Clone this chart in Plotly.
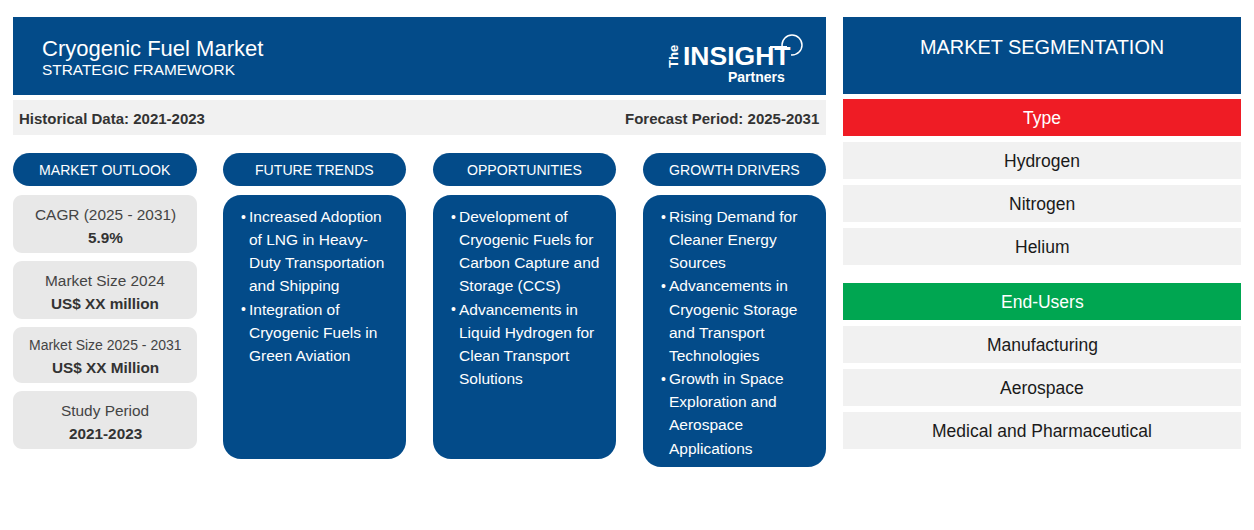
import plotly.graph_objects as go

NAVY = '#034b89'
GREY = '#e8e8e8'
LIGHT = '#f1f1f1'
INK = '#333333'
DARK = '#1a1a1a'
FONT = 'Liberation Sans'

title = 'Cryogenic Fuel Market'
subtitle = 'STRATEGIC FRAMEWORK'
historical = 'Historical Data: 2021-2023'
forecast = 'Forecast Period: 2025-2031'
segmentation_title = 'MARKET SEGMENTATION'

column_heads = ['MARKET OUTLOOK', 'FUTURE TRENDS', 'OPPORTUNITIES', 'GROWTH DRIVERS']

outlook_labels = ['CAGR (2025 - 2031)', 'Market Size 2024', 'Market Size 2025 - 2031', 'Study Period']
outlook_values = ['5.9%', 'US$ XX million', 'US$ XX Million', '2021-2023']

future_trends = [
    ['Increased Adoption', 'of LNG in Heavy-', 'Duty Transportation', 'and Shipping'],
    ['Integration of', 'Cryogenic Fuels in', 'Green Aviation'],
]
opportunities = [
    ['Development of', 'Cryogenic Fuels for', 'Carbon Capture and', 'Storage (CCS)'],
    ['Advancements in', 'Liquid Hydrogen for', 'Clean Transport', 'Solutions'],
]
growth_drivers = [
    ['Rising Demand for', 'Cleaner Energy', 'Sources'],
    ['Advancements in', 'Cryogenic Storage', 'and Transport', 'Technologies'],
    ['Growth in Space', 'Exploration and', 'Aerospace', 'Applications'],
]

type_items = ['Hydrogen', 'Nitrogen', 'Helium']
end_user_items = ['Manufacturing', 'Aerospace', 'Medical and Pharmaceutical']


def rounded(x0, y0, x1, y1, r):
    # rounded rectangle as an svg path, corners drawn with cubic curves
    k = r * 0.45
    return (f'M{x0+r},{y0} L{x1-r},{y0} C{x1-k},{y0} {x1},{y0+k} {x1},{y0+r} '
            f'L{x1},{y1-r} C{x1},{y1-k} {x1-k},{y1} {x1-r},{y1} '
            f'L{x0+r},{y1} C{x0+k},{y1} {x0},{y1-k} {x0},{y1-r} '
            f'L{x0},{y0+r} C{x0},{y0+k} {x0+k},{y0} {x0+r},{y0} Z')


fig = go.Figure()


def box(x0, y0, x1, y1, color, r=0):
    if r:
        fig.add_shape(type='path', path=rounded(x0, y0, x1, y1, r), fillcolor=color, line_width=0)
    else:
        fig.add_shape(type='rect', x0=x0, y0=y0, x1=x1, y1=y1, fillcolor=color, line_width=0)


def label(x, y, text, size=16, color=INK, anchor='center', bold=False, angle=0):
    fig.add_annotation(x=x, y=y, text=f'<b>{text}</b>' if bold else text, showarrow=False, xanchor=anchor,
                       yanchor='middle', textangle=angle,
                       font=dict(family=FONT, size=size, color=color))


# header
box(13, 17, 826, 95, NAVY)
label(40, 48, title, size=22, color='white', anchor='left')
label(40, 69, subtitle, size=15.4, color='white', anchor='left')

# logo
fig.add_shape(type='circle', x0=782, y0=35, x1=802, y1=55, line=dict(color='white', width=1.5))
box(780, 46, 791, 58, NAVY)
fig.add_shape(type='line', x0=770, y0=47, x1=787, y1=47, line=dict(color='white', width=2))
label(736, 56, 'INSIGHT', size=26.5, color='white', bold=True)
label(756, 77, 'Partners', size=14, color='white', bold=True)
label(673, 57, 'The', size=13, color='white', bold=True, angle=-90)

# period strip
box(13, 100, 826, 135, LIGHT)
label(17, 118, historical, size=15, bold=True, anchor='left')
label(821, 118, forecast, size=15, bold=True, anchor='right')

# four columns
col_x = [(13, 197), (223, 406), (433, 616), (643, 826)]
for (x0, x1), head in zip(col_x, column_heads):
    box(x0, 153, x1, 186, NAVY, r=16.5)
    label((x0 + x1) / 2, 170, head, size=14.1, color='white')

# market outlook cards
cards = [(195, 253, 214, 237, 15.4), (261, 319, 280, 303, 15.4), (327, 383, 345, 367, 14), (391, 449, 410, 433, 15.4)]
for (y0, y1, y_label, y_value, size), name, value in zip(cards, outlook_labels, outlook_values):
    box(13, y0, 197, y1, GREY, r=9)
    label(105, y_label, name, size=size, color='#444444')
    label(105, y_value, value, size=15.3, bold=True)

# bullet columns
bullet_cols = [(1, 459, future_trends), (2, 459, opportunities), (3, 467, growth_drivers)]
LINE_STEP = 23.15
for i, bottom, groups in bullet_cols:
    x0, x1 = col_x[i]
    box(x0, 195, x1, bottom, NAVY, r=18)
    y = 216.5
    for lines in groups:
        label(x0 + 20, y, '•', size=14, color='white')
        for line in lines:
            label(x0 + 24, y, line, size=15.5, color='white', anchor='left')
            y += LINE_STEP

# market segmentation panel
SEG_X = (843, 1241)
SEG_MID = (SEG_X[0] + SEG_X[1]) / 2
box(SEG_X[0], 17, SEG_X[1], 94, NAVY)
label(SEG_MID, 47, segmentation_title, size=19.9, color='white')

box(SEG_X[0], 99, SEG_X[1], 136, '#ef1c25')
label(SEG_MID, 118, 'Type', size=17.5, color='white')
for y0, item in zip([142, 185, 228], type_items):
    box(SEG_X[0], y0, SEG_X[1], y0 + 37, LIGHT)
    label(SEG_MID, y0 + 19, item, size=17.5, color=DARK)

box(SEG_X[0], 283, SEG_X[1], 320, '#00a651')
label(SEG_MID, 302, 'End-Users', size=17.5, color='white')
for y0, item in zip([326, 369, 412], end_user_items):
    box(SEG_X[0], y0, SEG_X[1], y0 + 37, LIGHT)
    label(SEG_MID, y0 + 19, item, size=17.5, color=DARK)

# the page body keeps an 8px margin, so the axes start at 8 to line up with the window
fig.update_layout(
    width=1246, height=522, margin=dict(l=0, r=0, t=0, b=0),
    paper_bgcolor='white', plot_bgcolor='white', showlegend=False,
    xaxis=dict(range=[8, 1254], visible=False, fixedrange=True),
    yaxis=dict(range=[530, 8], visible=False, fixedrange=True),
)

fig.write_html("out.html")
